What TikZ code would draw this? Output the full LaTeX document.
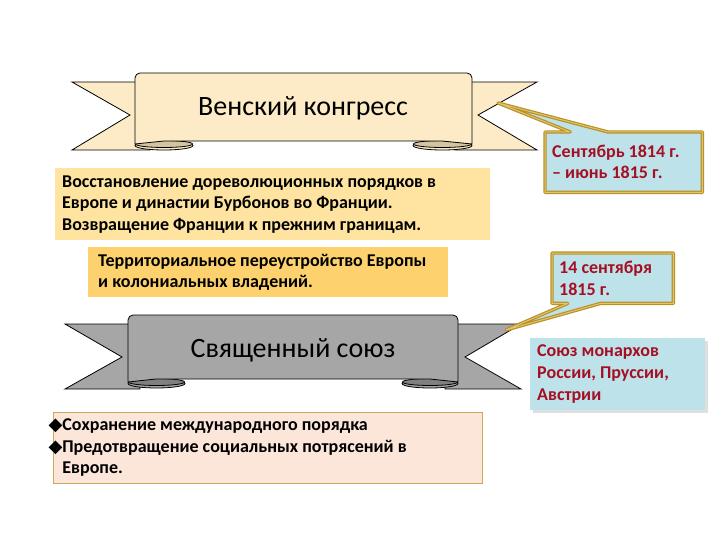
\documentclass[tikz,border=0pt]{standalone}
\usepackage{fontspec}
\setmainfont{Carlito}
\newfontfamily\symbolfont{DejaVu Sans}
\usetikzlibrary{positioning}
\usetikzlibrary{calc}
\usetikzlibrary{shadows}

\definecolor{ribbonA}{RGB}{252,235,198}
\definecolor{ribbonAshade}{RGB}{212,196,160}
\definecolor{ribbonB}{RGB}{166,166,166}
\definecolor{ribbonBshade}{RGB}{128,128,128}
\definecolor{boxA}{RGB}{254,228,160}
\definecolor{boxB}{RGB}{253,210,110}
\definecolor{boxC}{RGB}{251,230,217}
\definecolor{boxCline}{RGB}{205,170,90}
\definecolor{calloutfill}{RGB}{190,226,234}
\definecolor{goldline}{RGB}{184,146,40}
\definecolor{goldlight}{RGB}{226,196,110}
\definecolor{datered}{RGB}{165,15,35}

\pgfdeclarelayer{ribbons}
\pgfdeclarelayer{callouts}
\pgfsetlayers{ribbons,callouts,main}

\newcommand{\diamondbullet}{\leavevmode\llap{{\symbolfont\fontsize{18}{18}\selectfont ◆}}}

\tikzset{
  ribbonline/.style={draw=black, line width=0.8pt, line join=miter},
  titletext/.style={font=\fontsize{28}{32}\selectfont, inner sep=0pt},
  bodybox/.style={font=\fontsize{18}{21.5}\selectfont\bfseries, align=flush left, anchor=north west, inner ysep=0pt},
  datebox/.style={font=\fontsize{18}{21}\selectfont\bfseries, text=datered, align=flush left, anchor=north west, inner ysep=0pt},
  callout/.style={fill=calloutfill, draw=goldline, line width=1.2pt, double=goldlight, double distance=1pt, line join=round},
}

\begin{document}
\begin{tikzpicture}[x=1pt, y=-1pt]
  \useasboundingbox (0,0) rectangle (720,540);

  \begin{pgfonlayer}{ribbons}
    %%% Vienna ribbon %%%
    % Tails
    \draw[ribbonline, fill=ribbonA] (72,82) -- (150,82) -- (150,150) -- (72,150) -- (130,115) -- cycle; % left
    \draw[ribbonline, fill=ribbonA] (537,82) -- (455,82) -- (455,150) -- (537,150) -- (478,115) -- cycle; % right
    % Rolls
    \draw[ribbonline, fill=ribbonA] (164,145.5) ellipse [x radius=29pt, y radius=4.5pt];
    \draw[ribbonline, fill=ribbonAshade] (164,144) ellipse [x radius=28.5pt, y radius=3.5pt];
    \draw[ribbonline, fill=ribbonA] (442.5,145.5) ellipse [x radius=29.5pt, y radius=4.5pt];
    \draw[ribbonline, fill=ribbonAshade] (442.5,144) ellipse [x radius=29pt, y radius=3.5pt];
    % Band
    \draw[ribbonline, fill=ribbonA] (135,144) [rounded corners=5pt] -- (135,73) -- (472,73) -- (472,90) [sharp corners] -- (472,144) -- (442,141) -- (164,141) -- cycle;

    %%% Holy Alliance ribbon %%%
    % Tails
    \draw[ribbonline, fill=ribbonB] (65,324) -- (140,324) -- (140,389) -- (65,389) -- (122,357) -- cycle; % left
    \draw[ribbonline, fill=ribbonB] (521,324) -- (445,324) -- (445,389) -- (521,389) -- (465,357) -- cycle; % right
    % Rolls
    \draw[ribbonline, fill=ribbonB] (156.5,383.5) ellipse [x radius=28.5pt, y radius=4.5pt];
    \draw[ribbonline, fill=ribbonBshade] (156.5,382) ellipse [x radius=28pt, y radius=3.5pt];
    \draw[ribbonline, fill=ribbonB] (430,383.5) ellipse [x radius=28pt, y radius=4.5pt];
    \draw[ribbonline, fill=ribbonBshade] (430,382) ellipse [x radius=27.5pt, y radius=3.5pt];
    % Band
    \draw[ribbonline, fill=ribbonB] (128,382) [rounded corners=5pt] -- (128,315) -- (458,315) -- (458,330) [sharp corners] -- (458,382) -- (430,379) -- (156,379) -- cycle;
  \end{pgfonlayer}

  %%% Titles %%%
  \node[titletext] (vienna) at (303,108) {Венский конгресс};
  \node[titletext] (holy) at (293,350) {Священный союз};

  %%% Text boxes %%%
  \node[bodybox, fill=boxA, text width=421pt, inner xsep=7pt, minimum height=72pt] (restore) at (55,168)
    {Восстановление дореволюционных порядков в\\ Европе и династии Бурбонов во Франции.\\ Возвращение Франции к прежним границам.};
  \node[bodybox, fill=boxB, text width=340pt, inner xsep=10pt, minimum height=50pt] (rebuild) at (88,247)
    {Территориальное переустройство Европы\\ и колониальных владений.};
  \node[bodybox, fill=boxC, draw=boxCline, line width=0.8pt, text width=411pt, inner xsep=9pt, minimum height=71pt] (aims) at (53,412)
    {\diamondbullet Сохранение международного порядка\\ \diamondbullet Предотвращение социальных потрясений в\\ Европе.};

  %%% Callouts %%%
  \coordinate (tipA) at (498,103);
  \coordinate (tipB) at (506,330);
  \node[datebox, text width=143pt, inner xsep=7pt, minimum height=60pt] (dateA) at (545,132)
    {Сентябрь 1814 г.\\ – июнь 1815 г.};
  \node[datebox, text width=107pt, inner xsep=7pt, minimum height=50pt, font=\fontsize{18}{22}\selectfont\bfseries] (dateB) at (552,253)
    {14 сентября\\ 1815 г.};
  \node[datebox, fill=calloutfill, text width=161pt, inner xsep=7pt, minimum height=72pt,
        font=\fontsize{18}{22}\selectfont\bfseries,
        drop shadow={opacity=0.25, shadow xshift=3pt, shadow yshift=-3pt}] (monarchs) at (530,338)
    {Союз монархов\\ России, Пруссии,\\ Австрии};

  \begin{pgfonlayer}{callouts}
    \draw[callout] (dateA.north west) -- ($(dateA.north west)!0.16!(dateA.north east)$) -- (tipA)
      -- ($(dateA.north west)!0.40!(dateA.north east)$) -- (dateA.north east) -- (dateA.south east)
      -- (dateA.south west) -- cycle;
    \draw[callout] (dateB.north west) -- (dateB.north east) -- (dateB.south east)
      -- ($(dateB.south west)!0.40!(dateB.south east)$) -- (tipB)
      -- ($(dateB.south west)!0.13!(dateB.south east)$) -- (dateB.south west) -- cycle;
  \end{pgfonlayer}
\end{tikzpicture}
\end{document}
